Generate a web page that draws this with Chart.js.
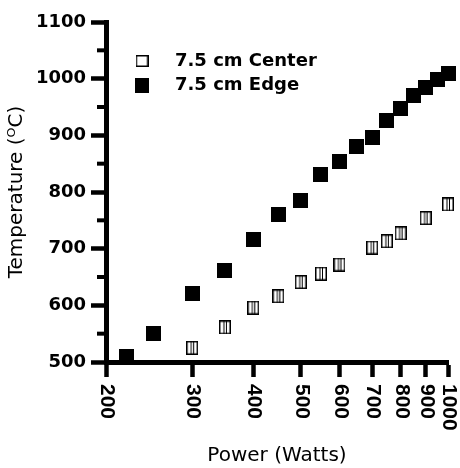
<!DOCTYPE html>
<html>
<head>
<meta charset="utf-8">
<script src="https://cdn.jsdelivr.net/npm/chart.js@4.4.0/dist/chart.umd.min.js"></script>
<style>
  html, body { margin: 0; padding: 0; background: #fff; }
</style>
</head>
<body>
<canvas id="chart" width="460" height="468"></canvas>
<script>
// valores
const edgePower = [220, 250, 300, 350, 400, 450, 500, 550, 600, 650, 700, 750, 800, 850, 900, 950, 1000];
const edgeTemp = [510, 551, 621, 661, 716, 761, 785, 831, 853, 881, 897, 926, 947, 971, 985, 998, 1009];
const centerPower = [300, 350, 400, 450, 500, 550, 600, 700, 750, 800, 900, 1000];
const centerTemp = [525, 561, 596, 616, 641, 656, 672, 702, 713, 727, 754, 778];
const powerTicks = [200, 300, 400, 500, 600, 700, 800, 900, 1000];
const tempTicks = [500, 600, 700, 800, 900, 1000, 1100];
const tempMinorTicks = [550, 650, 750, 850, 950, 1050];
const seriesLabels = ["7.5 cm Center", "7.5 cm Edge"];

// marcadores desenhados em canvas
function makeMarker(w, h, filled, lines) {
  const c = document.createElement("canvas");
  c.width = w;
  c.height = h;
  const g = c.getContext("2d");
  if (filled) {
    g.fillStyle = "#000";
    g.fillRect(0, 0, w, h);
  } else {
    g.fillStyle = "#fff";
    g.fillRect(0, 0, w, h);
    g.strokeStyle = "#000";
    g.lineWidth = 1.5;
    g.strokeRect(0.75, 0.75, w - 1.5, h - 1.5);
    if (lines) {
      g.lineWidth = 1;
      g.beginPath();
      g.moveTo(w / 2 - 1, 1); g.lineTo(w / 2 - 1, h - 1);
      g.moveTo(w / 2 + 1.5, 1); g.lineTo(w / 2 + 1.5, h - 1);
      g.stroke();
    }
  }
  return c;
}

const openMark = makeMarker(12, 14, false, true);
const filledMark = makeMarker(15, 15, true, false);
const legendOpen = makeMarker(13, 12, false, false);
const legendFilled = makeMarker(14, 15, true, false);

const PAD_LEFT = 5;
const PAD_RIGHT = 12;
const PAD_TOP = 22;
const PAD_BOTTOM = 0;

// ticks menores, rótulos do eixo x girados e legenda
const extras = {
  id: "extras",
  afterDraw(chart) {
    const ctx = chart.ctx;
    const xs = chart.scales.x;
    const ys = chart.scales.y;
    ctx.save();
    ctx.strokeStyle = "#000";
    ctx.lineWidth = 4;
    tempMinorTicks.forEach(v => {
      const y = ys.getPixelForValue(v);
      ctx.beginPath();
      ctx.moveTo(xs.left - 9, y);
      ctx.lineTo(xs.left, y);
      ctx.stroke();
    });

    ctx.fillStyle = "#000";
    ctx.font = "bold 21px 'Liberation Sans', Arial";
    ctx.textAlign = "left";
    ctx.textBaseline = "middle";
    xs.ticks.forEach(t => {
      const x = xs.getPixelForValue(t.value);
      ctx.save();
      ctx.translate(x + 1, xs.top + 22);
      ctx.rotate(Math.PI / 2);
      ctx.fillText(String(t.value), 0, 0);
      ctx.restore();
    });

    ctx.font = "bold 18px 'DejaVu Sans'";
    const marks = [legendOpen, legendFilled];
    const rows = [61, 85.5];
    chart.data.datasets.forEach((ds, i) => {
      const m = marks[i];
      ctx.drawImage(m, 142 - m.width / 2, rows[i] - m.height / 2);
      ctx.fillText(ds.label, 175, rows[i]);
    });
    ctx.restore();
  }
};

new Chart(document.getElementById("chart"), {
  type: "scatter",
  data: {
    datasets: [
      {
        label: seriesLabels[0],
        data: centerPower.map((p, i) => ({ x: p, y: centerTemp[i] })),
        pointStyle: openMark,
        clip: false
      },
      {
        label: seriesLabels[1],
        data: edgePower.map((p, i) => ({ x: p, y: edgeTemp[i] })),
        pointStyle: filledMark,
        clip: false
      }
    ]
  },
  options: {
    responsive: false,
    animation: false,
    layout: {
      padding: { left: PAD_LEFT, right: PAD_RIGHT, top: PAD_TOP, bottom: PAD_BOTTOM }
    },
    plugins: {
      legend: { display: false },
      tooltip: { enabled: false }
    },
    scales: {
      x: {
        type: "logarithmic",
        min: 200,
        max: 1000,
        afterBuildTicks: s => { s.ticks = powerTicks.map(v => ({ value: v })); },
        afterFit: s => { s.height = 468 - 362 - PAD_BOTTOM; },
        ticks: { display: false },
        grid: {
          drawOnChartArea: false,
          drawTicks: true,
          tickLength: 15,
          tickWidth: 4.5,
          tickColor: "#000"
        },
        border: { color: "#000", width: 5 },
        title: {
          display: true,
          text: "Power (Watts)",
          color: "#000",
          padding: 0,
          font: { family: "DejaVu Sans", size: 20 }
        }
      },
      y: {
        min: 500,
        max: 1100,
        afterBuildTicks: s => { s.ticks = tempTicks.map(v => ({ value: v })); },
        afterFit: s => { s.width = 106 - PAD_LEFT; },
        ticks: {
          color: "#000",
          padding: 5,
          callback: v => String(v),
          font: { family: "DejaVu Sans", size: 18, weight: "bold" }
        },
        grid: {
          drawOnChartArea: false,
          drawTicks: true,
          tickLength: 15,
          tickWidth: 4.5,
          tickColor: "#000"
        },
        border: { color: "#000", width: 5 },
        title: {
          display: true,
          text: "Temperature (ᴼC)",
          color: "#000",
          padding: 0,
          font: { family: "DejaVu Sans", size: 20 }
        }
      }
    }
  },
  plugins: [extras]
});
</script>
</body>
</html>
